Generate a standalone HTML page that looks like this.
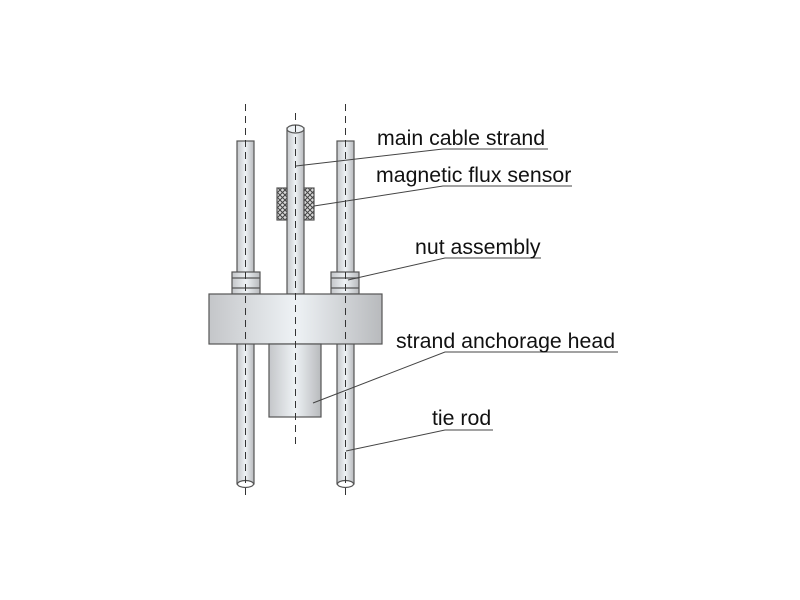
<!DOCTYPE html>
<html><head><meta charset="utf-8"><style>
html,body{margin:0;padding:0;background:#fff;width:800px;height:600px;overflow:hidden}
text{font-family:"Liberation Sans",sans-serif;font-size:21.3px;fill:#111}
</style></head><body>
<svg width="800" height="600" viewBox="0 0 800 600" xmlns="http://www.w3.org/2000/svg">
<defs>
<linearGradient id="g" x1="0" x2="1" y1="0" y2="0">
<stop offset="0" stop-color="#c4c6c9"/><stop offset="0.5" stop-color="#eef2f5"/><stop offset="1" stop-color="#b8babd"/>
</linearGradient>
<pattern id="h" width="5" height="5" patternUnits="userSpaceOnUse">
<rect width="5" height="5" fill="#d8d8d8"/><path d="M0 0L5 5M5 0L0 5" stroke="#444" stroke-width="1"/>
</pattern>
</defs>
<g stroke="#555" stroke-width="1.2">
<rect x="237" y="141" width="17" height="343" fill="url(#g)"/>
<rect x="337" y="141" width="17" height="343" fill="url(#g)"/>
<rect x="287" y="128" width="17" height="166" fill="url(#g)"/>
<ellipse cx="295.5" cy="129" rx="8.5" ry="4" fill="#eef2f5"/>
<rect x="277" y="188" width="10" height="32" fill="url(#h)"/>
<rect x="304" y="188" width="10" height="32" fill="url(#h)"/>
<rect x="232" y="272" width="28" height="22" fill="url(#g)"/>
<line x1="232" y1="278" x2="260" y2="278"/><line x1="232" y1="288" x2="260" y2="288"/>
<rect x="331" y="272" width="28" height="22" fill="url(#g)"/>
<line x1="331" y1="278" x2="359" y2="278"/><line x1="331" y1="288" x2="359" y2="288"/>
<rect x="209" y="294" width="173" height="50" fill="url(#g)"/>
<rect x="269" y="344" width="52" height="73" fill="url(#g)"/>
<ellipse cx="245.5" cy="484" rx="8" ry="3.5" fill="#fff"/>
<ellipse cx="345.5" cy="484" rx="8" ry="3.5" fill="#fff"/>
</g>
<g stroke="#333" stroke-width="1" stroke-dasharray="7,5">
<line x1="245.5" y1="104" x2="245.5" y2="497"/>
<line x1="345.5" y1="104" x2="345.5" y2="497"/>
<line x1="295.5" y1="113" x2="295.5" y2="445"/>
</g>
<g stroke="#444" stroke-width="1" fill="none">
<polyline points="296,166 443,149 548,149"/>
<polyline points="314,206 443,186 572,186"/>
<polyline points="348,280 445,258 541,258"/>
<polyline points="313,403 445,352 618,352"/>
<polyline points="346,451 445,430 493,430"/>
</g>
<text x="377" y="145">main cable strand</text>
<text x="376" y="182">magnetic flux sensor</text>
<text x="415" y="254">nut assembly</text>
<text x="396" y="348">strand anchorage head</text>
<text x="432" y="425">tie rod</text>
</svg>
</body></html>
